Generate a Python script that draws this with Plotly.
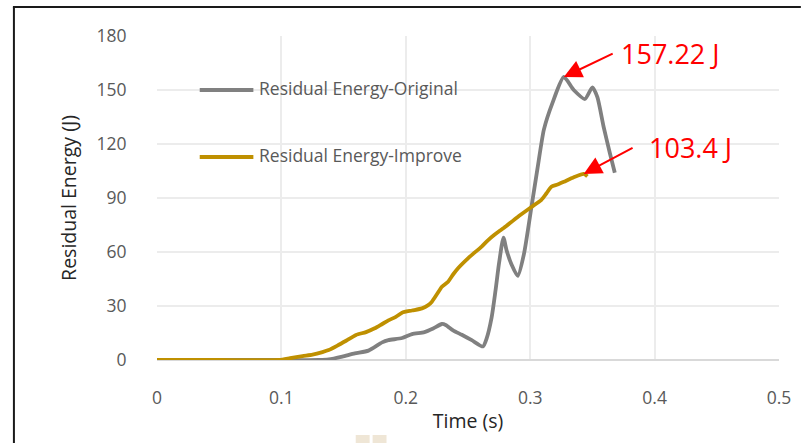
import plotly.graph_objects as go

# Residual energy vs. time for the two designs
t_original = [0.0, 0.05, 0.10, 0.13, 0.138, 0.149, 0.159, 0.170, 0.181, 0.186, 0.197, 0.205,
              0.215, 0.222, 0.229, 0.232, 0.238, 0.245, 0.253, 0.262, 0.265, 0.269, 0.272,
              0.275, 0.2785, 0.281, 0.285, 0.290, 0.295, 0.301, 0.306, 0.311, 0.318, 0.327,
              0.335, 0.344, 0.350, 0.354, 0.359, 0.364, 0.368]
e_original = [0.0, 0.0, 0.0, 0.0, 0.3, 1.9, 3.7, 5.2, 9.8, 11.0, 12.2, 14.4,
              15.5, 17.5, 20.0, 19.5, 16.5, 14.0, 11.0, 7.5, 12.0, 23.7, 38.0,
              54.0, 68.0, 61.0, 53.0, 46.7, 59.0, 85.0, 107.0, 128.0, 143.0, 157.22,
              150.0, 145.0, 151.5, 146.0, 129.6, 115.0, 104.0]

t_improve = [0.0, 0.05, 0.098, 0.107, 0.117, 0.125, 0.133, 0.138, 0.145, 0.152, 0.160, 0.168,
             0.175, 0.181, 0.186, 0.192, 0.197, 0.205, 0.213, 0.218, 0.221, 0.225, 0.229,
             0.234, 0.238, 0.242, 0.250, 0.255, 0.261, 0.266, 0.271, 0.275, 0.279, 0.290,
             0.301, 0.309, 0.313, 0.317, 0.322, 0.327, 0.335, 0.343, 0.346]
e_improve = [0.0, 0.0, 0.0, 1.0, 2.2, 3.0, 4.4, 5.5, 8.0, 10.7, 13.9, 15.5,
             17.6, 20.0, 22.0, 24.0, 26.3, 27.5, 28.7, 30.5, 32.4, 36.5, 40.7,
             43.5, 47.5, 51.0, 56.5, 59.5, 63.0, 66.5, 69.4, 71.5, 73.5, 79.5,
             85.0, 89.0, 92.5, 96.3, 97.5, 99.0, 101.5, 103.4, 102.0]

series_names = ["Residual Energy-Original", "Residual Energy-Improve"]
series_colors = ["#808080", "#bf9000"]

peak_original = (0.327, 157.22)
peak_improve = (0.343, 103.4)
peak_labels = ["157.22 J", "103.4 J"]

x_ticks = [0, 0.1, 0.2, 0.3, 0.4, 0.5]
x_tick_text = ["0", "0.1", "0.2", "0.3", "0.4", "0.5"]
y_ticks = [0, 30, 60, 90, 120, 150, 180]

# page geometry (pixels)
W, H = 803, 443
ML, MR, MT, MB = 157, 20, 36, 83
PW, PH = W - ML - MR, H - MT - MB


def px_x(px):
    return (px - ML) / PW


def px_y(py):
    return (H - MB - py) / PH


FONT = "Open Sans, Noto Sans, DejaVu Sans, sans-serif"

fig = go.Figure()
for t, e, name, col in [(t_original, e_original, series_names[0], series_colors[0]),
                        (t_improve, e_improve, series_names[1], series_colors[1])]:
    fig.add_trace(go.Scatter(x=t, y=e, mode="lines", name=name,
                             line=dict(color=col, width=3.8, shape="spline", smoothing=0.6),
                             showlegend=False))

shapes = []
annotations = []

# hand-placed legend inside the plot
for i, (name, col) in enumerate(zip(series_names, series_colors)):
    ly = [90, 157][i]
    shapes.append(dict(type="line", xref="paper", yref="paper",
                       x0=px_x(200), x1=px_x(254), y0=px_y(ly), y1=px_y(ly),
                       line=dict(color=col, width=4)))
    annotations.append(dict(xref="paper", yref="paper", x=px_x(258), y=px_y(ly - 2),
                            text=name, showarrow=False, xanchor="left", yanchor="middle",
                            font=dict(family=FONT, size=17.5, color="#595959")))

# peak callouts: arrow (tail given in data units) then red value label
callouts = [(peak_original, (0.3675, 170.6), (674, 53), peak_labels[0]),
            (peak_improve, (0.3835, 118.3), (694, 147), peak_labels[1])]
for (tx, ty), (ax, ay), (lx, ly), label in callouts:
    annotations.append(dict(x=tx, y=ty, ax=ax, ay=ay, axref="x", ayref="y", text="",
                            showarrow=True, arrowhead=2, arrowsize=1.8, arrowwidth=2,
                            arrowcolor="#ff0000"))
    annotations.append(dict(xref="paper", yref="paper", x=px_x(lx), y=px_y(ly), text=label,
                            showarrow=False, xanchor="center", yanchor="middle",
                            font=dict(family=FONT, size=27, color="#ff0000")))

# outer frame (left and top edges) and small marks along the bottom
shapes.append(dict(type="line", xref="paper", yref="paper", x0=px_x(13), x1=px_x(13),
                   y0=px_y(7), y1=px_y(H + 2), line=dict(color="#1a1a1a", width=2)))
shapes.append(dict(type="line", xref="paper", yref="paper", x0=px_x(12), x1=px_x(W + 2),
                   y0=px_y(7), y1=px_y(7), line=dict(color="#1a1a1a", width=2)))
for x0, x1 in [(357, 371), (374, 388)]:
    shapes.append(dict(type="rect", xref="paper", yref="paper", x0=px_x(x0), x1=px_x(x1),
                       y0=px_y(H + 2), y1=px_y(435), fillcolor="#efe6d6", line=dict(width=0)))

fig.update_layout(
    width=W, height=H,
    margin=dict(l=ML, r=MR, t=MT, b=MB, pad=0),
    paper_bgcolor="white", plot_bgcolor="white",
    font=dict(family=FONT, size=17.5, color="#595959"),
    shapes=shapes, annotations=annotations,
    xaxis=dict(range=[0, 0.5], tickvals=x_ticks, ticktext=x_tick_text,
               showgrid=True, gridcolor="#ececec", gridwidth=2,
               zeroline=False, showline=False,
               ticks="outside", ticklen=22, tickcolor="rgba(0,0,0,0)",
               tickfont=dict(family=FONT, size=17.5, color="#595959"),
               title=dict(text="Time (s)", standoff=6,
                          font=dict(family=FONT, size=19.5, color="#262626"))),
    yaxis=dict(range=[0, 180], tickvals=y_ticks,
               showgrid=True, gridcolor="#ececec", gridwidth=2,
               zeroline=True, zerolinecolor="#d9d9d9", zerolinewidth=2,
               showline=False,
               ticks="outside", ticklen=26, tickcolor="rgba(0,0,0,0)",
               tickfont=dict(family=FONT, size=17.5, color="#595959"),
               title=dict(text="Residual Energy (J)", standoff=14,
                          font=dict(family=FONT, size=19.5, color="#262626"))),
)

fig.write_html("out.html")
